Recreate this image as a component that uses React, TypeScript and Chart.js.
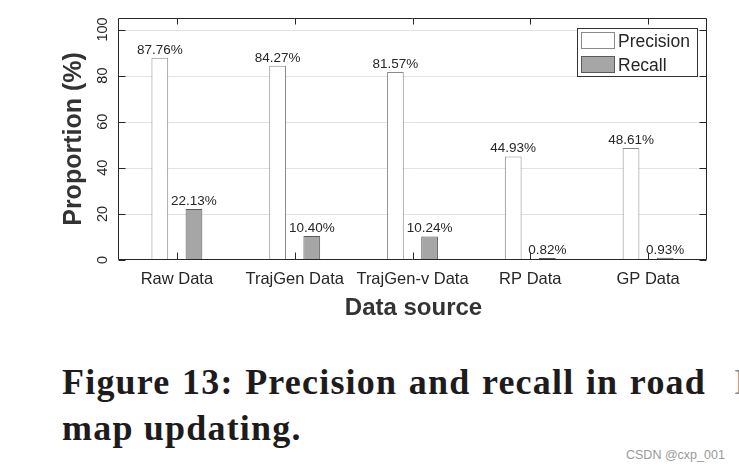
import React, { useEffect, useRef } from "react";
import { Chart, registerables } from "chart.js";

Chart.register(...registerables);

const categories = ["Raw Data", "TrajGen Data", "TrajGen-v Data", "RP Data", "GP Data"];
const seriesNames = ["Precision", "Recall"];
const precision = [87.76, 84.27, 81.57, 44.93, 48.61];
const recall = [22.13, 10.4, 10.24, 0.82, 0.93];
const yTicks = [0, 20, 40, 60, 80, 100];
const yMax = 105;
const xTitle = "Data source";
const yTitle = "Proportion (%)";
const captionLine1 = "Figure 13: Precision and recall in road";
const captionLine2 = "map updating.";
const watermark = "CSDN @cxp_001";

const SANS = '"Liberation Sans", Arial, Helvetica, sans-serif';
const SERIF = 'bold 36px "Liberation Serif", "Times New Roman", serif';
const AXIS = "#262626";
const TEXT = "#262626";

const fills = ["#ffffff", "#a6a6a6"];
const borders = ["#8a8a8a", "#5a5a5a"];

export default function App() {
  const ref = useRef<HTMLCanvasElement | null>(null);

  useEffect(() => {
    const canvas = ref.current;
    if (!canvas) return;

    const decor = {
      id: "decor",
      beforeDatasetsDraw(chart: any) {
        const { ctx, chartArea: a, scales } = chart;
        const y = scales.y;
        ctx.save();
        ctx.strokeStyle = "#e2e2e2";
        ctx.lineWidth = 1;
        yTicks.forEach((v) => {
          if (v === 0) return;
          const py = Math.round(y.getPixelForValue(v)) + 0.5;
          ctx.beginPath();
          ctx.moveTo(a.left, py);
          ctx.lineTo(a.right, py);
          ctx.stroke();
        });
        ctx.restore();
      },
      afterDatasetsDraw(chart: any) {
        const { ctx, chartArea: a, scales } = chart;
        const x = scales.x;
        const y = scales.y;
        ctx.save();

        // data labels
        ctx.fillStyle = TEXT;
        ctx.font = `13.5px ${SANS}`;
        ctx.textAlign = "center";
        ctx.textBaseline = "alphabetic";
        chart.data.datasets.forEach((ds: any, i: number) => {
          const meta = chart.getDatasetMeta(i);
          meta.data.forEach((bar: any, j: number) => {
            ctx.fillText(ds.data[j].toFixed(2) + "%", bar.x, bar.y - 4);
          });
        });

        // frame
        ctx.strokeStyle = AXIS;
        ctx.lineWidth = 1;
        const L = a.left + 0.5, R = a.right - 0.5, T = a.top + 0.5, B = a.bottom - 0.5;
        ctx.beginPath();
        ctx.moveTo(L, T); ctx.lineTo(R, T); ctx.lineTo(R, B); ctx.lineTo(L, B); ctx.closePath();
        ctx.stroke();

        // ticks
        ctx.beginPath();
        yTicks.forEach((v) => {
          const py = Math.round(y.getPixelForValue(v)) + 0.5;
          ctx.moveTo(L, py); ctx.lineTo(L + 7, py);
          ctx.moveTo(R, py); ctx.lineTo(R - 7, py);
        });
        categories.forEach((_, i) => {
          const px = Math.round(x.getPixelForValue(i)) + 0.5;
          ctx.moveTo(px, T); ctx.lineTo(px, T + 6);
          ctx.moveTo(px, B); ctx.lineTo(px, B - 7);
        });
        ctx.stroke();

        // y tick labels (rotated)
        ctx.fillStyle = TEXT;
        ctx.font = `14.5px ${SANS}`;
        ctx.textAlign = "center";
        ctx.textBaseline = "alphabetic";
        yTicks.forEach((v) => {
          const py = y.getPixelForValue(v);
          ctx.save();
          ctx.translate(a.left - 11, py);
          ctx.rotate(-Math.PI / 2);
          ctx.fillText(String(v), 0, 0);
          ctx.restore();
        });

        // x tick labels
        ctx.font = `16.5px ${SANS}`;
        categories.forEach((c, i) => {
          ctx.fillText(c, x.getPixelForValue(i), a.bottom + 24);
        });

        // axis titles
        ctx.fillStyle = "#333333";
        ctx.font = `bold 24px ${SANS}`;
        ctx.fillText(xTitle, (a.left + a.right) / 2 + 1, a.bottom + 55);
        ctx.save();
        ctx.translate(a.left - 37, (a.top + a.bottom) / 2);
        ctx.rotate(-Math.PI / 2);
        ctx.font = `bold 25px ${SANS}`;
        ctx.fillText(yTitle, 0, 0);
        ctx.restore();

        // legend
        const bx = a.right - 130, by = a.top + 10, bw = 121, bh = 49;
        ctx.fillStyle = "#ffffff";
        ctx.fillRect(bx, by, bw, bh);
        ctx.strokeStyle = "#333333";
        ctx.strokeRect(bx + 0.5, by + 0.5, bw - 1, bh - 1);
        ctx.font = `17.5px ${SANS}`;
        ctx.textAlign = "left";
        seriesNames.forEach((n, i) => {
          const sy = by + 4 + i * 24;
          ctx.fillStyle = fills[i];
          ctx.fillRect(bx + 4, sy, 34, 17);
          ctx.strokeStyle = borders[i];
          ctx.strokeRect(bx + 4.5, sy + 0.5, 33, 16);
          ctx.fillStyle = TEXT;
          ctx.fillText(n, bx + 41, sy + 15);
        });

        ctx.restore();
      },
    };

    const chart = new Chart(canvas, {
      type: "bar",
      data: {
        labels: categories,
        datasets: [
          {
            label: seriesNames[0],
            data: precision,
            backgroundColor: fills[0],
            borderColor: borders[0],
            borderWidth: 1,
            categoryPercentage: 0.58,
            barPercentage: 0.49,
          },
          {
            label: seriesNames[1],
            data: recall,
            backgroundColor: fills[1],
            borderColor: borders[1],
            borderWidth: 1,
            categoryPercentage: 0.58,
            barPercentage: 0.49,
          },
        ],
      },
      options: {
        responsive: false,
        animation: false,
        devicePixelRatio: 1,
        layout: { padding: { left: 118, top: 18, right: 32, bottom: 80 } },
        plugins: { legend: { display: false }, tooltip: { enabled: false } },
        scales: {
          x: { display: false },
          y: { display: false, min: 0, max: yMax, ticks: { includeBounds: false } },
        },
      },
      plugins: [decor],
    });
    return () => chart.destroy();
  }, []);

  return (
    <div
      style={{
        position: "absolute",
        left: 0,
        top: 0,
        width: 739,
        height: 473,
        background: "#ffffff",
        overflow: "hidden",
      }}
    >
      <canvas ref={ref} width={739} height={340} style={{ position: "absolute", left: 0, top: 0 }} />
      <div
        style={{
          position: "absolute",
          left: 62,
          top: 362,
          width: 644,
          font: SERIF,
          lineHeight: "40px",
          letterSpacing: "1.2px",
          color: "#1e1b1c",
          textAlign: "justify",
          textAlignLast: "justify" as any,
        }}
      >
        {captionLine1}
      </div>
      <div
        style={{
          position: "absolute",
          left: 734,
          top: 362,
          font: SERIF,
          lineHeight: "40px",
          color: "#8a8a8a",
          whiteSpace: "nowrap",
        }}
      >
        I
      </div>
      <div
        style={{
          position: "absolute",
          left: 62,
          top: 408,
          font: SERIF,
          lineHeight: "40px",
          letterSpacing: "1.2px",
          color: "#1e1b1c",
          whiteSpace: "nowrap",
        }}
      >
        {captionLine2}
      </div>
      <div
        style={{
          position: "absolute",
          left: 626,
          top: 447,
          font: `12.5px ${SANS}`,
          lineHeight: "16px",
          color: "#9a9a9a",
          whiteSpace: "nowrap",
        }}
      >
        {watermark}
      </div>
    </div>
  );
}
